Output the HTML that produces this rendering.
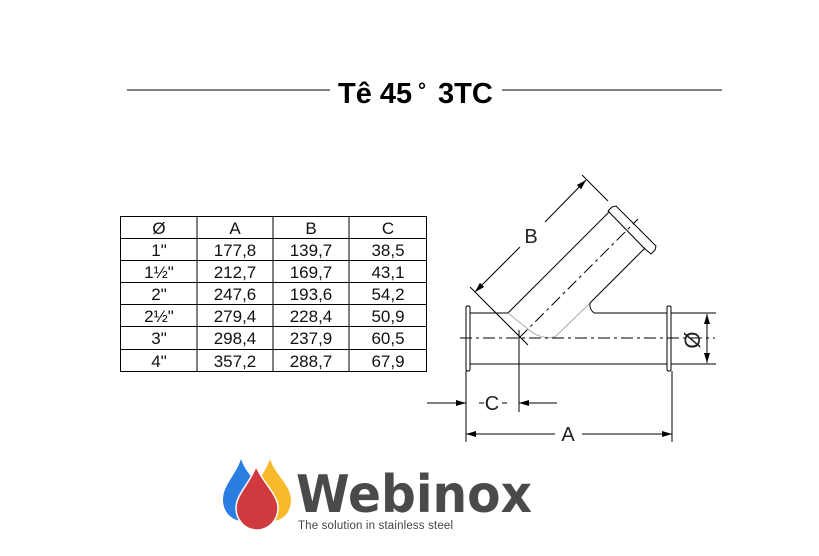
<!DOCTYPE html>
<html><head><meta charset="utf-8"><style>
html,body{margin:0;padding:0;background:#fff;}
svg{display:block;font-family:"Liberation Sans",Arial,sans-serif;}
</style></head><body>
<svg width="819" height="556" viewBox="0 0 819 556" xmlns="http://www.w3.org/2000/svg">
<defs>
<marker id="ar" viewBox="0 0 10 6" refX="10" refY="3" markerWidth="11" markerHeight="6" markerUnits="userSpaceOnUse" orient="auto-start-reverse"><path d="M0,0 L10,3 L0,6 Z" fill="#000"/></marker>
</defs>
<!-- title -->
<line x1="127" y1="90" x2="330" y2="90" stroke="#000" stroke-width="1"/>
<line x1="502" y1="90" x2="722" y2="90" stroke="#000" stroke-width="1"/>
<text x="338" y="103" font-size="29" font-weight="bold">Tê 45</text>
<text x="418" y="97" font-size="20" font-weight="bold">°</text>
<text x="438" y="103" font-size="29" font-weight="bold">3TC</text>

<!-- table -->
<g stroke="#000" stroke-width="1" fill="none">
<rect x="120.5" y="216.5" width="306" height="155"/>
<line x1="197" y1="216" x2="197" y2="371"/>
<line x1="273" y1="216" x2="273" y2="371"/>
<line x1="349" y1="216" x2="349" y2="371"/>
<line x1="120" y1="238.5" x2="426" y2="238.5"/>
<line x1="120" y1="260.5" x2="426" y2="260.5"/>
<line x1="120" y1="282.5" x2="426" y2="282.5"/>
<line x1="120" y1="304.5" x2="426" y2="304.5"/>
<line x1="120" y1="326.5" x2="426" y2="326.5"/>
<line x1="120" y1="349.5" x2="426" y2="349.5"/>
</g>
<g font-size="17" text-anchor="middle" fill="#111">
<text x="159" y="234">Ø</text><text x="235" y="234">A</text><text x="311" y="234">B</text><text x="388" y="234">C</text>
<text x="159" y="256">1"</text><text x="235" y="256">177,8</text><text x="311" y="256">139,7</text><text x="388" y="256">38,5</text>
<text x="159" y="278">1½"</text><text x="235" y="278">212,7</text><text x="311" y="278">169,7</text><text x="388" y="278">43,1</text>
<text x="159" y="300">2"</text><text x="235" y="300">247,6</text><text x="311" y="300">193,6</text><text x="388" y="300">54,2</text>
<text x="159" y="322">2½"</text><text x="235" y="322">279,4</text><text x="311" y="322">228,4</text><text x="388" y="322">50,9</text>
<text x="159" y="344">3"</text><text x="235" y="344">298,4</text><text x="311" y="344">237,9</text><text x="388" y="344">60,5</text>
<text x="159" y="367">4"</text><text x="235" y="367">357,2</text><text x="311" y="367">288,7</text><text x="388" y="367">67,9</text>
</g>

<!-- drawing -->
<g stroke="#000" stroke-width="1" fill="none">
<line x1="470" y1="313" x2="508" y2="313"/>
<line x1="594" y1="313" x2="667" y2="313"/>
<line x1="470" y1="364" x2="667" y2="364"/>
<rect x="466" y="306" width="4" height="65" rx="1.5"/>
<rect x="667" y="306" width="4" height="65" rx="1.5"/>
<line x1="508" y1="313" x2="609" y2="212"/>
<path d="M508,313 L533,333 Q543,339 555,337 L590,303" stroke="#aaa"/>
<path d="M590,303 Q589,309 594,313"/>
<line x1="590" y1="303" x2="645" y2="248"/>
<path d="M608,211 L612,207 L616,206 L656,246 L655,250 L651,254 L645,249 Z"/>
<line x1="460" y1="338" x2="715" y2="338" stroke-dasharray="12,4,3,4"/>
<line x1="519" y1="338" x2="638" y2="219" stroke-dasharray="12,4,3,4"/>
<line x1="519" y1="330" x2="519" y2="412"/>
<line x1="470" y1="287" x2="528" y2="345"/>
<line x1="582" y1="175" x2="608" y2="201"/>
<line x1="475" y1="292" x2="520" y2="247" marker-start="url(#ar)"/>
<line x1="545" y1="222" x2="586" y2="180" marker-end="url(#ar)"/>
<line x1="671" y1="313" x2="716" y2="313"/>
<line x1="671" y1="364" x2="716" y2="364"/>
<line x1="707" y1="314" x2="707" y2="363" marker-start="url(#ar)" marker-end="url(#ar)"/>
<line x1="466" y1="371" x2="466" y2="442"/>
<line x1="672" y1="371" x2="672" y2="442"/>
<line x1="427" y1="403" x2="466" y2="403" marker-end="url(#ar)"/>
<line x1="479" y1="403" x2="484" y2="403"/>
<line x1="502" y1="403" x2="507" y2="403"/>
<line x1="557" y1="403" x2="519" y2="403" marker-end="url(#ar)"/>
<line x1="555" y1="434" x2="466" y2="434" marker-end="url(#ar)"/>
<line x1="582" y1="434" x2="672" y2="434" marker-end="url(#ar)"/>
</g>
<g font-size="20" fill="#222" text-anchor="middle">
<text x="531" y="243">B</text>
<text x="492" y="410">C</text>
<text x="568" y="441">A</text>
<text x="0" y="0" font-size="22" transform="translate(700,340) rotate(-90)">Ø</text>
</g>

<!-- logo -->
<g>
<path d="M241,459 C236,475 223,485 223,500 C223,512 232,521 243,521 C254,521 262,512 262,500 C262,485 246,475 241,459 Z" fill="#2a7de1"/>
<path d="M270,459 C265,475 252,485 252,500 C252,512 261,521 272,521 C283,521 291,512 291,500 C291,485 275,475 270,459 Z" fill="#f8b92a"/>
<path d="M256,466 C251,482 236,494 236,508 C236,520 245,530 257,530 C269,530 278,520 278,508 C278,494 262,482 256,466 Z" fill="#d03a3e" stroke="#fff" stroke-width="1.5"/>
<text x="296" y="512" font-size="52" font-weight="bold" fill="#4a4a4a" font-family="'DejaVu Sans','Liberation Sans',sans-serif" textLength="236" lengthAdjust="spacingAndGlyphs">Webinox</text>
<text x="298" y="529" font-size="11.5" fill="#444" textLength="155">The solution in stainless steel</text>
</g>
</svg>
</body></html>
